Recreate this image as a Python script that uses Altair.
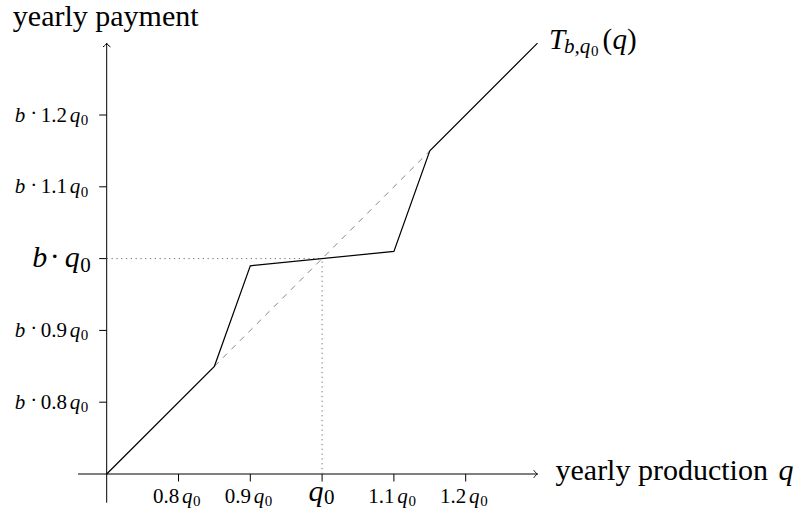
import altair as alt
import pandas as pd

# ---------------- data ----------------
q_points = [0.70, 0.85, 0.90, 1.10, 1.15, 1.30]          # yearly production (in q0 units)
pay_points = [0.70, 0.85, 0.99, 1.01, 1.15, 1.30]        # yearly payment (in b*q0 units)
diag_q = [0.85, 1.15]
diag_pay = [0.85, 1.15]
q0 = 1.0
origin = 0.70
axis_start = 0.66
axis_end = 1.30
tick_values = [0.8, 0.9, 1.0, 1.1, 1.2]
small_ticks = [0.8, 0.9, 1.1, 1.2]
small_tick_labels = ["0.8", "0.9", "1.1", "1.2"]

# ---------------- layout ----------------
FONT = "'Liberation Serif', 'DejaVu Serif', 'Times New Roman', serif"
W, H = 795, 508
PX = 718.0                 # pixels per unit
OX, OY = 106.7, 474.0      # pixel position of the origin
x_lo = origin - OX / PX
x_hi = x_lo + W / PX
y_lo = origin - (H - OY) / PX
y_hi = origin + OY / PX
TICK = 7.5 / PX

xs = alt.Scale(domain=[x_lo, x_hi], nice=False, zero=False)
ys = alt.Scale(domain=[y_lo, y_hi], nice=False, zero=False)


def X(f):
    return alt.X(f, type="quantitative", scale=xs, axis=None)


def Y(f):
    return alt.Y(f, type="quantitative", scale=ys, axis=None)


def text_layer(df, text, dx=0, dy=0, size=21, style="normal", align="left"):
    return alt.Chart(df).mark_text(
        dx=dx, dy=dy, fontSize=size, fontStyle=style, align=align,
        baseline="alphabetic", font=FONT, color="black"
    ).encode(x=X("x"), y=Y("y"), text=alt.Text(text))


layers = []

# axes
axes_h = pd.DataFrame({"x": [axis_start], "x2": [axis_end], "y": [origin]})
axes_v = pd.DataFrame({"x": [origin], "y": [axis_start], "y2": [axis_end]})
layers.append(alt.Chart(axes_h).mark_rule(color="black", strokeWidth=1).encode(
    x=X("x"), x2="x2", y=Y("y")))
layers.append(alt.Chart(axes_v).mark_rule(color="black", strokeWidth=1).encode(
    x=X("x"), y=Y("y"), y2="y2"))

# arrowheads
arrows = pd.DataFrame({"x": [axis_end, origin], "y": [origin, axis_end], "angle": [0, 270]})
layers.append(alt.Chart(arrows).mark_point(
    shape="M-1,-1 C-0.6,-0.45 -0.3,-0.12 0,0 C-0.3,0.12 -0.6,0.45 -1,1",
    size=56, filled=False, color="black", strokeWidth=1, opacity=1
).encode(x=X("x"), y=Y("y"), angle=alt.Angle("angle:Q", scale=None)))

# ticks
xt = pd.DataFrame({"x": tick_values, "y": [origin - TICK] * 5, "y2": [origin] * 5})
yt = pd.DataFrame({"y": tick_values, "x": [origin - TICK] * 5, "x2": [origin] * 5})
layers.append(alt.Chart(xt).mark_rule(color="black", strokeWidth=1).encode(
    x=X("x"), y=Y("y"), y2="y2"))
layers.append(alt.Chart(yt).mark_rule(color="black", strokeWidth=1).encode(
    x=X("x"), x2="x2", y=Y("y")))

# dotted guides to (q0, b*q0)
dot_h = pd.DataFrame({"x": [origin], "x2": [q0], "y": [q0]})
dot_v = pd.DataFrame({"x": [q0], "y": [origin], "y2": [q0]})
layers.append(alt.Chart(dot_h).mark_rule(color="#777777", strokeWidth=1, strokeDash=[1.3, 3.5]).encode(
    x=X("x"), x2="x2", y=Y("y")))
layers.append(alt.Chart(dot_v).mark_rule(color="#777777", strokeWidth=1, strokeDash=[1.3, 3.5]).encode(
    x=X("x"), y=Y("y"), y2="y2"))

# dashed diagonal
diag = pd.DataFrame({"x": diag_q, "y": diag_pay})
layers.append(alt.Chart(diag).mark_line(color="#888888", strokeWidth=1, strokeDash=[6, 6]).encode(
    x=X("x"), y=Y("y")))

# the payment function
curve = pd.DataFrame({"x": q_points, "y": pay_points, "i": list(range(len(q_points)))})
layers.append(alt.Chart(curve).mark_line(color="black", strokeWidth=1.2).encode(
    x=X("x"), y=Y("y"), order="i:O"))

# y tick labels (b · 0.8q0 ...)
ylab = pd.DataFrame({"x": [origin] * 4, "y": small_ticks, "num": small_tick_labels,
                     "b": ["b"] * 4, "dot": ["·"] * 4, "q": ["q"] * 4, "z": ["0"] * 4})
layers.append(text_layer(ylab, "b:N", dx=-92, dy=6.5, size=21, style="italic"))
layers.append(text_layer(ylab, "dot:N", dx=-73, dy=5, size=21, align="center"))
layers.append(text_layer(ylab, "num:N", dx=-66, dy=6.5, size=21))
layers.append(text_layer(ylab, "q:N", dx=-37, dy=6.5, size=21, style="italic"))
layers.append(text_layer(ylab, "z:N", dx=-26, dy=10, size=15))

# big y label b · q0
ybig = pd.DataFrame({"x": [origin], "y": [q0], "b": ["b"], "dot": ["·"], "q": ["q"], "z": ["0"]})
layers.append(text_layer(ybig, "b:N", dx=-74.5, dy=8, size=30, style="italic"))
layers.append(text_layer(ybig, "dot:N", dx=-52, dy=7, size=30, align="center"))
layers.append(text_layer(ybig, "q:N", dx=-42, dy=8, size=30, style="italic"))
layers.append(text_layer(ybig, "z:N", dx=-26.5, dy=13, size=21))

# x tick labels (0.8q0 ...)
xlab = pd.DataFrame({"x": small_ticks, "y": [origin] * 4, "num": small_tick_labels,
                     "q": ["q"] * 4, "z": ["0"] * 4})
layers.append(text_layer(xlab, "num:N", dx=-25.6, dy=28.5, size=21))
layers.append(text_layer(xlab, "q:N", dx=3.4, dy=28.5, size=21, style="italic"))
layers.append(text_layer(xlab, "z:N", dx=14.5, dy=31.5, size=15))

# big x label q0
xbig = pd.DataFrame({"x": [q0], "y": [origin], "q": ["q"], "z": ["0"]})
layers.append(text_layer(xbig, "q:N", dx=-13.5, dy=27, size=30, style="italic"))
layers.append(text_layer(xbig, "z:N", dx=2, dy=29.5, size=21))

# axis titles
ytitle = pd.DataFrame({"x": [origin], "y": [axis_end], "t": ["yearly payment"]})
layers.append(text_layer(ytitle, "t:N", dx=-1, dy=-17, size=30, align="center"))
xtitle = pd.DataFrame({"x": [axis_end], "y": [origin], "t": ["yearly production"], "q": ["q"]})
layers.append(text_layer(xtitle, "t:N", dx=18, dy=5.5, size=30))
layers.append(text_layer(xtitle, "q:N", dx=241, dy=5.5, size=30, style="italic"))

# curve label T_{b,q0}(q)
tl = pd.DataFrame({"x": [q_points[-1]], "y": [pay_points[-1]], "T": ["T"], "sub": ["b,q"],
                   "z": ["0"], "lp": ["("], "q": ["q"], "rp": [")"]})
layers.append(text_layer(tl, "T:N", dx=11.5, dy=6, size=29, style="italic"))
layers.append(text_layer(tl, "sub:N", dx=26.5, dy=10, size=21, style="italic"))
layers.append(text_layer(tl, "z:N", dx=53.5, dy=13, size=15))
layers.append(text_layer(tl, "lp:N", dx=65, dy=6, size=29))
layers.append(text_layer(tl, "q:N", dx=75, dy=6, size=29, style="italic"))
layers.append(text_layer(tl, "rp:N", dx=89.5, dy=6, size=29))

chart = alt.layer(*layers).properties(
    width=W, height=H, padding=0, autosize=alt.AutoSizeParams(type="none"),
    background="white"
).configure_view(stroke=None)

chart.save("out.html", embed_options={"renderer": "svg", "actions": False})
